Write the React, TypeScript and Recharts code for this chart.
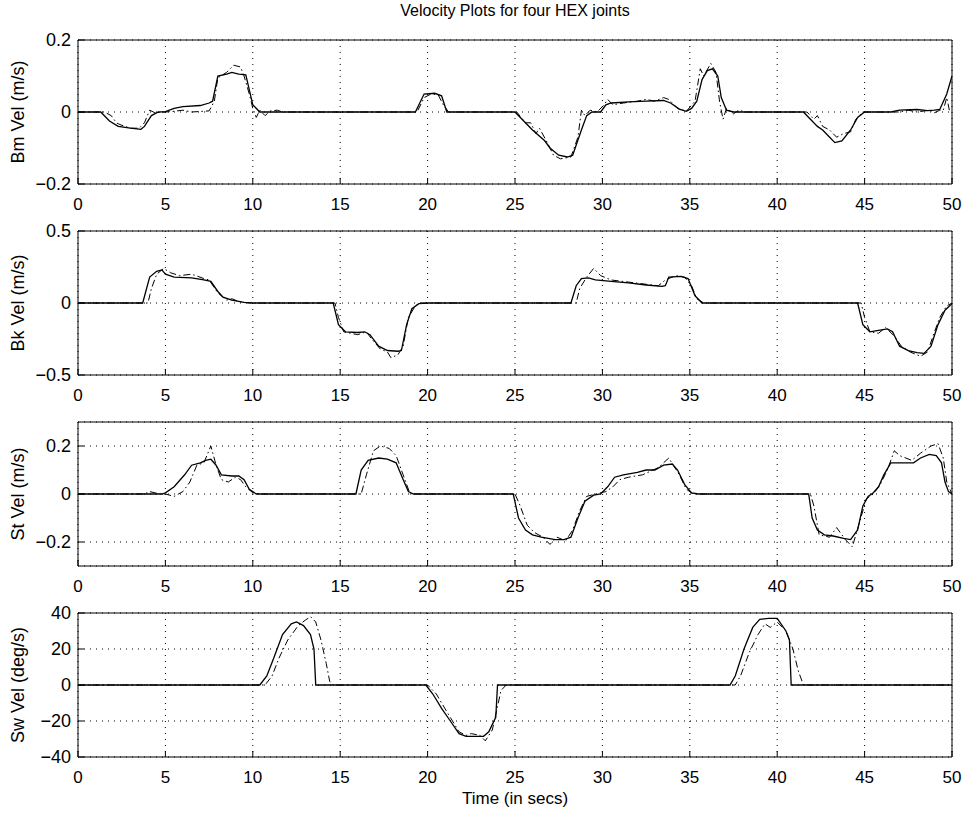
import { LineChart, Line, XAxis, YAxis, CartesianGrid } from 'recharts'

type Pt = [number, number]

const timeTicks = [0, 5, 10, 15, 20, 25, 30, 35, 40, 45, 50]

// Bm joint (m/s)
const bmActual: Pt[] = [
  [0, 0], [1.3, 0], [1.8, -0.025], [2.3, -0.04], [3, -0.045], [3.6, -0.048], [3.8, -0.04], [4.2, -0.01],
  [4.6, 0], [5, 0.001], [5.5, 0.01], [6, 0.015], [7, 0.018], [7.5, 0.025], [7.7, 0.03], [8.0, 0.1],
  [8.5, 0.105], [8.8, 0.11], [9.2, 0.105], [9.6, 0.103], [10.0, 0.02], [10.4, 0], [19.3, 0], [19.8, 0.05],
  [20.4, 0.052], [20.8, 0.045], [21.1, 0], [25.0, 0], [25.4, -0.02], [26, -0.05], [26.7, -0.08], [27, -0.1],
  [27.5, -0.12], [28, -0.125], [28.3, -0.12], [28.8, -0.05], [29.1, -0.01], [29.4, 0], [29.9, 0],
  [30.2, 0.02], [30.5, 0.025], [31.5, 0.028], [32.5, 0.03], [33.5, 0.032], [33.9, 0.025], [34.4, 0.008],
  [34.8, 0.002], [35.1, 0.01], [35.4, 0.03], [35.7, 0.09], [36.0, 0.115], [36.3, 0.12], [36.6, 0.1],
  [36.8, 0.04], [37.1, 0.005], [37.5, 0], [41.5, 0], [41.9, -0.02], [42.3, -0.04], [42.6, -0.05],
  [43.0, -0.07], [43.3, -0.085], [43.7, -0.08], [44.2, -0.05], [44.6, -0.015], [45, 0], [46.5, 0],
  [47, 0.005], [48, 0.007], [48.6, 0.004], [49, 0.005], [49.3, 0.007], [49.7, 0.05], [50, 0.1],
]
const bmDesired: Pt[] = [
  [0, 0], [1.5, 0], [1.9, -0.01], [2.2, -0.03], [2.4, -0.035], [3, -0.045], [3.5, -0.045], [3.8, -0.03],
  [4.1, 0.005], [4.4, -0.002], [5, 0], [5.5, 0.002], [6.0, 0.005], [6.5, 0], [7.5, 0.003], [7.8, 0.03],
  [8.0, 0.095], [8.5, 0.11], [8.9, 0.13], [9.3, 0.125], [9.5, 0.1], [9.8, 0.05], [10.0, 0.01],
  [10.2, -0.015], [10.4, 0.005], [10.7, -0.01], [11, 0.003], [11.4, 0.005], [11.7, 0], [19.4, 0],
  [19.8, 0.04], [20.2, 0.05], [20.6, 0.048], [20.9, 0.02], [21.2, 0], [25.1, 0], [25.6, -0.03],
  [25.9, -0.03], [26.2, -0.06], [26.4, -0.045], [26.9, -0.09], [27.2, -0.12], [27.6, -0.13],
  [28.2, -0.125], [28.6, -0.07], [28.8, 0.005], [29.0, -0.01], [29.3, 0.005], [29.7, 0], [30.1, 0.02],
  [30.3, 0.035], [30.6, 0.02], [31.2, 0.025], [32, 0.03], [32.5, 0.035], [33, 0.03], [33.5, 0.04],
  [33.8, 0.035], [34.3, 0.01], [34.8, 0.002], [35.3, 0.03], [35.6, 0.12], [35.8, 0.1], [36.2, 0.135],
  [36.5, 0.11], [36.7, 0.03], [36.9, -0.02], [37.1, 0.01], [37.5, -0.005], [37.8, 0.005], [38.2, 0],
  [41.7, 0], [42.1, -0.02], [42.3, -0.01], [42.6, -0.04], [43, -0.05], [43.4, -0.07], [43.8, -0.06],
  [44.2, -0.055], [44.5, -0.02], [44.9, 0], [47, 0], [47.5, 0.005], [48, 0], [48.7, 0.005], [49, -0.002],
  [49.3, 0.005], [49.5, 0.005], [49.7, 0.04], [49.85, 0.005],
]

// Bk joint (m/s)
const bkActual: Pt[] = [
  [0, 0], [3.7, 0], [4.1, 0.18], [4.5, 0.22], [4.8, 0.23], [5.0, 0.2], [5.5, 0.18], [6.5, 0.175],
  [7.2, 0.16], [7.6, 0.15], [8.0, 0.08], [8.3, 0.04], [8.8, 0.02], [9.5, 0.005], [10, 0], [14.6, 0],
  [14.9, -0.15], [15.3, -0.2], [16, -0.205], [16.4, -0.2], [16.7, -0.22], [17.2, -0.3], [17.7, -0.33],
  [18.3, -0.335], [18.5, -0.33], [18.8, -0.15], [19.1, -0.04], [19.5, -0.005], [20, 0], [28.2, 0],
  [28.5, 0.12], [28.8, 0.17], [29.2, 0.175], [29.6, 0.16], [30.5, 0.15], [31.5, 0.14], [32.5, 0.125],
  [33.4, 0.115], [33.6, 0.12], [33.8, 0.18], [34.5, 0.185], [34.9, 0.17], [35.3, 0.05], [35.7, 0],
  [44.6, 0], [44.9, -0.15], [45.3, -0.2], [45.8, -0.19], [46.3, -0.18], [46.6, -0.2], [47.0, -0.3],
  [47.5, -0.33], [48.0, -0.345], [48.4, -0.35], [48.8, -0.3], [49.2, -0.15], [49.6, -0.05], [50, -0.005],
]
const bkDesired: Pt[] = [
  [0, 0], [4.0, 0], [4.2, 0.1], [4.5, 0.2], [4.9, 0.24], [5.3, 0.21], [5.8, 0.19], [6.5, 0.2],
  [7.2, 0.17], [7.5, 0.16], [8.0, 0.07], [8.5, 0.02], [8.8, 0.03], [9.2, 0.01], [9.8, 0], [14.7, 0],
  [14.9, -0.1], [15.2, -0.2], [16, -0.22], [16.5, -0.2], [16.8, -0.25], [17.3, -0.32], [17.7, -0.34],
  [17.9, -0.38], [18.3, -0.36], [18.6, -0.3], [18.9, -0.1], [19.3, -0.02], [19.6, 0], [28.5, 0],
  [28.7, 0.1], [29.1, 0.18], [29.5, 0.24], [29.9, 0.19], [30.5, 0.16], [31.5, 0.145], [32.5, 0.13],
  [33.2, 0.12], [33.6, 0.16], [34.2, 0.19], [34.7, 0.18], [35.1, 0.12], [35.4, 0.03], [35.8, 0],
  [44.8, 0], [45.0, -0.1], [45.3, -0.2], [45.8, -0.21], [46.2, -0.17], [46.7, -0.23], [47.1, -0.3],
  [47.6, -0.34], [48.2, -0.37], [48.6, -0.34], [49.0, -0.2], [49.3, -0.1], [49.7, -0.02], [50, 0],
]

// St joint (m/s)
const stActual: Pt[] = [
  [0, 0], [4.8, 0], [5.0, 0.005], [5.5, 0.03], [6.1, 0.08], [6.5, 0.12], [7.0, 0.13], [7.3, 0.14],
  [7.6, 0.145], [7.9, 0.12], [8.2, 0.08], [8.8, 0.075], [9.2, 0.075], [9.5, 0.06], [9.8, 0.02],
  [10.2, 0], [15.9, 0], [16.2, 0.1], [16.6, 0.14], [17.2, 0.15], [17.7, 0.145], [18.2, 0.13],
  [18.6, 0.06], [18.9, 0.01], [19.2, 0], [24.9, 0], [25.2, -0.1], [25.6, -0.15], [26.0, -0.17],
  [26.5, -0.18], [27.3, -0.19], [27.8, -0.19], [28.2, -0.18], [28.6, -0.1], [29.0, -0.03],
  [29.5, -0.005], [29.9, 0], [30.3, 0.03], [30.7, 0.07], [31.2, 0.08], [32, 0.09], [32.5, 0.1],
  [33, 0.1], [33.5, 0.12], [34.0, 0.125], [34.3, 0.1], [34.7, 0.04], [35.1, 0.005], [35.5, 0],
  [41.8, 0], [42.0, -0.1], [42.3, -0.15], [42.7, -0.17], [43.2, -0.175], [43.8, -0.185], [44.2, -0.19],
  [44.6, -0.15], [44.9, -0.05], [45.2, -0.01], [45.5, 0.005], [45.8, 0.03], [46.1, 0.08], [46.5, 0.13],
  [47.0, 0.13], [47.8, 0.13], [48.2, 0.15], [48.7, 0.165], [49.1, 0.16], [49.4, 0.13], [49.6, 0.05],
  [49.8, 0.01], [50, 0],
]
const stDesired: Pt[] = [
  [0, 0], [3.8, 0], [4.1, 0.01], [4.4, 0.005], [4.7, 0], [5.0, 0], [5.5, -0.01], [6.0, 0.01],
  [6.4, 0.05], [6.8, 0.12], [7.2, 0.13], [7.6, 0.2], [7.9, 0.12], [8.2, 0.06], [8.6, 0.05], [9.0, 0.07],
  [9.3, 0.06], [9.6, 0.03], [10.0, 0.005], [10.4, 0], [16.2, 0], [16.5, 0.08], [16.9, 0.18], [17.3, 0.2],
  [17.8, 0.19], [18.2, 0.16], [18.6, 0.08], [19.0, 0], [25.0, 0], [25.3, -0.05], [25.7, -0.13],
  [26.1, -0.16], [26.6, -0.18], [27.0, -0.21], [27.4, -0.18], [27.9, -0.195], [28.3, -0.15],
  [28.7, -0.07], [29.1, -0.01], [29.6, 0], [30.2, 0.01], [30.6, 0.03], [31.0, 0.06], [31.5, 0.07],
  [32.3, 0.08], [33.2, 0.11], [33.8, 0.15], [34.4, 0.08], [34.8, 0.02], [35.2, 0], [41.9, 0],
  [42.1, -0.05], [42.4, -0.17], [43, -0.18], [43.4, -0.14], [43.9, -0.19], [44.3, -0.22], [44.7, -0.12],
  [45.1, -0.02], [45.5, 0], [45.9, 0.04], [46.3, 0.1], [46.7, 0.18], [47.0, 0.16], [47.7, 0.14],
  [48.2, 0.17], [48.8, 0.2], [49.2, 0.21], [49.5, 0.15], [49.7, 0.05], [50, 0],
]

// Sw joint (deg/s)
const swActual: Pt[] = [
  [0, 0], [10.4, 0], [10.8, 5], [11.2, 15], [11.7, 28], [12.2, 34], [12.5, 35], [12.9, 33], [13.3, 28],
  [13.5, 20], [13.6, 0], [19.9, 0], [20.3, -5], [20.8, -13], [21.3, -20], [21.8, -27], [22.2, -28.5],
  [23.2, -28.5], [23.5, -26], [23.9, -18], [24.0, 0], [37.3, 0], [37.6, 5], [38.1, 20], [38.6, 32],
  [39.0, 36.5], [39.5, 37], [40.0, 37], [40.5, 30], [40.7, 25], [40.8, 0], [50, 0],
]
const swDesired: Pt[] = [
  [0, 0], [10.7, 0], [11.1, 5], [11.5, 15], [12.0, 25], [12.6, 33], [13.0, 36], [13.3, 38], [13.6, 35],
  [13.9, 25], [14.2, 12], [14.4, 2], [14.6, 0], [20.0, 0], [20.5, -5], [20.8, -10], [21.3, -18],
  [21.8, -26], [22.2, -28], [22.5, -27], [23.0, -28], [23.3, -31], [23.7, -25], [24.0, -12], [24.2, -3],
  [24.5, 0], [37.6, 0], [37.9, 5], [38.4, 18], [38.9, 28], [39.3, 34], [39.6, 32], [40.0, 35],
  [40.5, 30], [40.9, 20], [41.2, 8], [41.5, 0], [50, 0],
]

const toRows = (pts: Pt[]) => pts.map(([t, v]) => ({ t, v }))
const fmt = (v: number) => String(v).replace('-', '\u2212')

function YLabel(props: any) {
  const { viewBox, text } = props
  const cy = viewBox.y + viewBox.height / 2
  return (
    <text
      x={18}
      y={cy}
      transform={`rotate(-90 18 ${cy})`}
      textAnchor="middle"
      dominantBaseline="central"
      fontSize={18}
      fill="#000"
    >
      {text}
    </text>
  )
}

interface PanelProps {
  top: number
  label: string
  domain: [number, number]
  ticks: number[]
  actual: Pt[]
  desired: Pt[]
}

function Panel({ top, label, domain, ticks, actual, desired }: PanelProps) {
  return (
    <div style={{ position: 'absolute', left: 0, top: top - 10 }}>
      <LineChart width={969} height={190} margin={{ top: 9, right: 16, bottom: 0, left: 0 }}>
        <CartesianGrid xAxisId="b" yAxisId="l" stroke="#000" strokeDasharray="1 5" />
        <XAxis
          xAxisId="b"
          dataKey="t"
          type="number"
          domain={[0, 50]}
          ticks={timeTicks}
          interval={0}
          allowDataOverflow
          height={36}
          tickSize={-6}
          tickMargin={20}
          stroke="#000"
          tick={{ fill: '#000', fontSize: 17 }}
        />
        {/* top edge of the box, ticks pointing inward */}
        <XAxis
          xAxisId="t"
          orientation="top"
          dataKey="t"
          type="number"
          domain={[0, 50]}
          ticks={timeTicks}
          interval={0}
          height={1}
          tick={false}
          tickSize={-6}
          stroke="#000"
        />
        <YAxis
          yAxisId="l"
          type="number"
          domain={domain}
          ticks={ticks}
          interval={0}
          allowDataOverflow
          width={78}
          tickSize={-6}
          tickMargin={13}
          tickFormatter={fmt}
          stroke="#000"
          tick={{ fill: '#000', fontSize: 18 }}
          label={<YLabel text={label} />}
        />
        {/* right edge of the box */}
        <YAxis
          yAxisId="r"
          orientation="right"
          type="number"
          domain={domain}
          ticks={ticks}
          interval={0}
          width={1}
          tick={false}
          tickSize={-6}
          stroke="#000"
        />
        <Line
          xAxisId="b"
          yAxisId="l"
          data={toRows(desired)}
          dataKey="v"
          type="linear"
          stroke="#000"
          strokeWidth={1}
          strokeDasharray="7 3 1.5 3"
          dot={false}
          isAnimationActive={false}
        />
        <Line
          xAxisId="b"
          yAxisId="l"
          data={toRows(actual)}
          dataKey="v"
          type="linear"
          stroke="#000"
          strokeWidth={1.3}
          dot={false}
          isAnimationActive={false}
        />
      </LineChart>
    </div>
  )
}

export default function App() {
  return (
    <div
      style={{
        position: 'absolute',
        left: 0,
        top: 0,
        width: 969,
        height: 818,
        background: '#fff',
        fontFamily: "'Liberation Sans', Arial, sans-serif",
      }}
    >
      <div style={{ position: 'absolute', left: 78, width: 874, top: 2, textAlign: 'center', fontSize: 16 }}>
        Velocity Plots for four HEX joints
      </div>
      <Panel top={40} label="Bm Vel (m/s)" domain={[-0.2, 0.2]} ticks={[-0.2, 0, 0.2]} actual={bmActual} desired={bmDesired} />
      <Panel top={231} label="Bk Vel (m/s)" domain={[-0.5, 0.5]} ticks={[-0.5, 0, 0.5]} actual={bkActual} desired={bkDesired} />
      <Panel top={422} label="St Vel (m/s)" domain={[-0.3, 0.3]} ticks={[-0.2, 0, 0.2]} actual={stActual} desired={stDesired} />
      <Panel top={613} label="Sw Vel (deg/s)" domain={[-40, 40]} ticks={[-40, -20, 0, 20, 40]} actual={swActual} desired={swDesired} />
      <div style={{ position: 'absolute', left: 78, width: 874, top: 789, textAlign: 'center', fontSize: 17 }}>
        Time (in secs)
      </div>
    </div>
  )
}
